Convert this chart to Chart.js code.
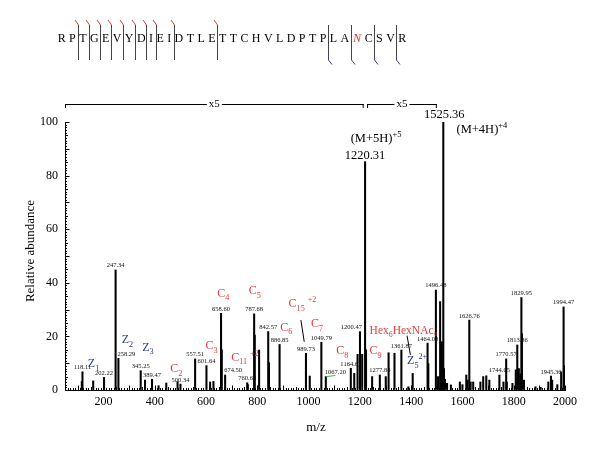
<!DOCTYPE html>
<html>
<head>
<meta charset="utf-8">
<script src="https://cdn.jsdelivr.net/npm/chart.js@4.4.1/dist/chart.umd.min.js"></script>
<style>body{margin:0;background:#fff}</style>
</head>
<body>
<canvas id="myChart" width="600" height="450"></canvas>
<script>
// spectrum peaks (m/z, relative abundance)
const peakMz = [115.5, 118.11, 160, 202.22, 247.34, 258.29, 345.25, 362, 389.47, 415, 445, 489, 500.34,
  557.51, 601.64, 616, 629, 658.60, 661.5, 674.50, 760.69, 763, 787.68, 790, 807, 842.57, 845.5, 886.85,
  989.73, 1004.5, 1049.79, 1067.20, 1164.67, 1178, 1191, 1200.47, 1209, 1220.31, 1224, 1247.8, 1277.84,
  1301, 1312, 1335, 1361.87, 1389, 1406, 1464.00, 1467, 1496.48, 1505, 1513, 1517, 1520, 1525.36, 1528,
  1532, 1540, 1555, 1590, 1600, 1615, 1620, 1626.76, 1632, 1642, 1670, 1681, 1693, 1705, 1744.05, 1760,
  1770.57, 1773, 1795, 1808, 1813.86, 1820, 1826, 1829.95, 1832, 1840, 1885, 1905, 1935, 1945.36, 1950,
  1970, 1985, 1994.47, 1998];
const peakAbund = [3.2, 6.8, 3.4, 4.7, 44.8, 11.8, 7.2, 3.7, 4.0, 1.6, 2.6, 3.1, 2.2,
  11.6, 9.1, 3.0, 3.2, 28.6, 15, 5.6, 2.7, 2.0, 28.4, 20.5, 14.9, 21.8, 10.2, 17.0,
  13.7, 5.2, 17.8, 5.0, 8.1, 6.2, 13.3, 21.8, 13.3, 85.2, 15, 5, 5.6,
  5, 13.9, 13.7, 14.9, 1.2, 6.2, 17.5, 9.8, 37.3, 5, 33, 12, 18, 100, 8,
  4, 2.5, 1.9, 3, 2, 5.6, 3.7, 26.1, 3, 3, 3, 5, 5.3, 3.7, 5.6, 3,
  11.6, 3, 2.5, 7.5, 16.8, 8, 6, 34.5, 21, 3.7, 1.2, 1, 3, 5.2, 3.7,
  2, 6.8, 31, 9];
// small peak labels
const peakLabels = ['118.11', '202.22', '247.34', '258.29', '345.25', '389.47', '500.34', '557.51', '601.64',
  '658.60', '674.50', '760.69', '787.68', '842.57', '886.85', '989.73', '1049.79', '1067.20', '1164.67',
  '1200.47', '1277.84', '1361.87', '1464.00', '1496.48', '1626.76', '1744.05', '1770.57', '1813.86',
  '1829.95', '1945.36', '1994.47'];
const sequence = ['R','P','T','G','E','V','Y','D','I','E','I','D','T','L','E','T','T','C','H','V','L','D','P','T','P','L','A','N','C','S','V','R'];
const cCuts = [2, 3, 4, 5, 6, 7, 8, 9, 11, 15];
const zCuts = [25, 27, 29, 31];
const xTickStep = 200;
const yTickStep = 20;

const fam = '"Liberation Serif", "DejaVu Serif", serif';
const RED = '#e23b3b';
const BLUE = '#2f3a8f';

function rich(ctx, parts, x, yc, size, color) {
  ctx.fillStyle = color;
  ctx.textAlign = 'left';
  ctx.textBaseline = 'alphabetic';
  let cx = x;
  const base = yc + size * 0.33;
  for (const [t, m] of parts) {
    const fs = m ? size * 0.68 : size;
    ctx.font = fs + 'px ' + fam;
    const dy = m === 1 ? size * 0.3 : (m === 2 ? -size * 0.4 : 0);
    ctx.fillText(t, cx, base + dy);
    cx += ctx.measureText(t).width;
  }
}

const ionLabels = [
  {p: [['Z',0],['1',1]], mz: 139, v: 9.9, c: BLUE},
  {p: [['Z',0],['2',1]], mz: 271, v: 18.9, c: BLUE},
  {p: [['Z',0],['3',1]], mz: 351, v: 16.2, c: BLUE},
  {p: [['C',0],['2',1]], mz: 460, v: 8.1, c: RED},
  {p: [['C',0],['3',1]], mz: 598, v: 16.8, c: RED},
  {p: [['C',0],['4',1]], mz: 644, v: 36.3, c: RED},
  {p: [['C',0],['5',1]], mz: 767, v: 37.3, c: RED},
  {p: [['C',0],['11',1],[' ',0],['+2',2]], mz: 698, v: 12.4, c: RED},
  {p: [['C',0],['6',1]], mz: 889, v: 23.6, c: RED},
  {p: [['C',0],['15',1],[' ',0],['+2',2]], mz: 922, v: 32.4, c: RED},
  {p: [['C',0],['7',1]], mz: 1009, v: 24.9, c: RED},
  {p: [['C',0],['8',1]], mz: 1108, v: 14.9, c: RED},
  {p: [['C',0],['9',1]], mz: 1238, v: 14.9, c: RED},
  {p: [['Hex',0],['6',1],['HexNAc',0]], mz: 1238, v: 22.4, c: RED},
  {p: [['Z',0],['5',1],['2+',2]], mz: 1384, v: 11.2, c: BLUE}
];
const labelAlign = {'258.29': 'left', '674.50': 'left', '1067.20': 'left', '1200.47': 'right'};

const annotate = {
  id: 'annotate',
  afterDraw(chart) {
    const {ctx, chartArea: a, scales: {x, y}} = chart;
    ctx.save();
    ctx.strokeStyle = '#000';
    ctx.lineWidth = 1;
    // inward ticks
    ctx.beginPath();
    for (let v = 60; v <= 2000; v += 10) {
      const px = Math.round(x.getPixelForValue(v)) + 0.5;
      const len = v % 100 === 0 ? 4.5 : (v % 50 === 0 ? 3 : 2);
      ctx.moveTo(px, a.bottom); ctx.lineTo(px, a.bottom - len);
    }
    for (let v = 0; v <= 100; v += 1) {
      const py = Math.round(y.getPixelForValue(v)) + 0.5;
      const len = v % 10 === 0 ? 4.5 : (v % 5 === 0 ? 3 : 2);
      ctx.moveTo(a.left, py); ctx.lineTo(a.left + len, py);
    }
    ctx.stroke();

    // small m/z labels
    ctx.fillStyle = '#111';
    ctx.font = '6.5px ' + fam;
    ctx.textBaseline = 'bottom';
    for (const lab of peakLabels) {
      const m = parseFloat(lab);
      const i = peakMz.indexOf(m);
      const px = x.getPixelForValue(m);
      const py = y.getPixelForValue(peakAbund[i]) - 1;
      const al = labelAlign[lab] || 'center';
      ctx.textAlign = al;
      ctx.fillText(lab, al === 'left' ? px - 1 : (al === 'right' ? px + 2 : px), py);
    }
    // green mark & red 6
    ctx.strokeStyle = '#3cb043';
    ctx.beginPath();
    ctx.moveTo(x.getPixelForValue(1069), y.getPixelForValue(5)); ctx.lineTo(x.getPixelForValue(1104), y.getPixelForValue(5.4));
    ctx.stroke();
    ctx.fillStyle = RED; ctx.font = '6px ' + fam; ctx.textAlign = 'left';
    ctx.fillText('6', x.getPixelForValue(1490), y.getPixelForValue(19.6));

    // ion labels
    for (const L of ionLabels) {
      rich(ctx, L.p, x.getPixelForValue(L.mz), y.getPixelForValue(L.v), L.p[0][0] === 'Hex' ? 11.5 : 12, L.c);
    }
    // leader lines
    ctx.strokeStyle = '#000';
    ctx.beginPath();
    ctx.moveTo(x.getPixelForValue(970), y.getPixelForValue(26.1)); ctx.lineTo(x.getPixelForValue(983), y.getPixelForValue(18));
    ctx.moveTo(x.getPixelForValue(1384), y.getPixelForValue(20.3)); ctx.lineTo(x.getPixelForValue(1397), y.getPixelForValue(13.1));
    ctx.stroke();

    // precursor labels
    ctx.fillStyle = '#000';
    ctx.textAlign = 'center';
    ctx.textBaseline = 'middle';
    ctx.font = '12.5px ' + fam;
    ctx.fillText('1525.36', x.getPixelForValue(1529), y.getPixelForValue(102.6));
    ctx.fillText('1220.31', x.getPixelForValue(1220), y.getPixelForValue(87.3));
    rich(ctx, [['(M+4H)',0],['+4',2]], x.getPixelForValue(1577), y.getPixelForValue(97.6), 12.5, '#000');
    rich(ctx, [['(M+5H)',0],['+5',2]], x.getPixelForValue(1164), y.getPixelForValue(94.1), 12.5, '#000');

    // x5 brackets
    const by = a.top - 18;
    ctx.font = '11px ' + fam;
    for (const [m0, m1] of [[50, 1215], [1228, 1500]]) {
      const x0 = x.getPixelForValue(m0), x1 = x.getPixelForValue(m1);
      ctx.strokeStyle = '#000';
      ctx.beginPath();
      ctx.moveTo(x0, by + 0.5); ctx.lineTo(x1, by + 0.5);
      ctx.moveTo(x0 + 0.5, by); ctx.lineTo(x0 + 0.5, by + 4);
      ctx.moveTo(x1 - 0.5, by); ctx.lineTo(x1 - 0.5, by + 4);
      ctx.stroke();
      const xm = (x0 + x1) / 2;
      const w = ctx.measureText('x5').width + 4;
      ctx.fillStyle = '#fff';
      ctx.fillRect(xm - w / 2, by - 5, w, 10);
      ctx.fillStyle = '#000';
      ctx.textAlign = 'center'; ctx.textBaseline = 'middle';
      ctx.fillText('x5', xm, by);
    }

    // peptide sequence
    ctx.font = '12px ' + fam;
    const wd = sequence.map(c => ctx.measureText(c).width);
    let halfSum = 0;
    for (let i = 1; i < sequence.length; i++) halfSum += (wd[i - 1] + wd[i]) / 2;
    const gap = (340.6 - halfSum) / (sequence.length - 1);
    const cx = [61.7];
    for (let i = 1; i < sequence.length; i++) cx[i] = cx[i - 1] + (wd[i - 1] + wd[i]) / 2 + gap;
    ctx.textAlign = 'center'; ctx.textBaseline = 'alphabetic';
    sequence.forEach((c, i) => {
      if (i === 27) { ctx.fillStyle = RED; ctx.font = 'italic 12px ' + fam; }
      else { ctx.fillStyle = '#000'; ctx.font = '12px ' + fam; }
      ctx.fillText(c, cx[i], 41.5);
    });
    ctx.lineWidth = 1;
    for (const k of cCuts) {
      const sx = Math.round((cx[k - 1] + cx[k]) / 2) + 0.5;
      ctx.strokeStyle = '#444';
      ctx.beginPath(); ctx.moveTo(sx, 25); ctx.lineTo(sx, 60); ctx.stroke();
      ctx.strokeStyle = RED;
      ctx.beginPath(); ctx.moveTo(sx - 3.5, 20); ctx.lineTo(sx, 25); ctx.stroke();
    }
    for (const k of zCuts) {
      const sx = Math.round((cx[k - 1] + cx[k]) / 2) + 0.5;
      ctx.strokeStyle = '#444';
      ctx.beginPath(); ctx.moveTo(sx, 25); ctx.lineTo(sx, 60); ctx.stroke();
      ctx.strokeStyle = BLUE;
      ctx.beginPath(); ctx.moveTo(sx, 60); ctx.lineTo(sx + 3.5, 64.5); ctx.stroke();
    }

    // axis titles
    ctx.fillStyle = '#000';
    ctx.font = '13px ' + fam;
    ctx.textAlign = 'center'; ctx.textBaseline = 'middle';
    ctx.fillText('m/z', 316, 428);
    ctx.translate(31, 251);
    ctx.rotate(-Math.PI / 2);
    ctx.fillText('Relative abundance', 0, 0);
    ctx.restore();
  }
};

new Chart('myChart', {
  type: 'bar',
  data: {
    datasets: [{
      data: peakMz.map((m, i) => ({x: m, y: peakAbund[i]})),
      backgroundColor: '#000',
      borderWidth: 0,
      barThickness: 1.4
    }]
  },
  options: {
    responsive: false,
    animation: false,
    layout: {padding: {left: 0, right: 35, top: 122, bottom: 0}},
    plugins: {legend: {display: false}, tooltip: {enabled: false}},
    scales: {
      x: {
        type: 'linear', min: 50, max: 2000, offset: false,
        afterFit(s) { s.height = 60; },
        grid: {display: true, offset: false, drawOnChartArea: false, drawTicks: false},
        border: {display: true, color: '#000', width: 1},
        ticks: {
          stepSize: xTickStep, autoSkip: false, maxRotation: 0, padding: 5, color: '#000',
          font: {family: fam, size: 12},
          callback: v => v % xTickStep === 0 ? v : ''
        }
      },
      y: {
        min: 0, max: 100,
        afterFit(s) { s.width = 65; },
        grid: {display: true, drawOnChartArea: false, drawTicks: false},
        border: {display: true, color: '#000', width: 1},
        ticks: {stepSize: yTickStep, padding: 7, color: '#000', font: {family: fam, size: 12}}
      }
    }
  },
  plugins: [annotate]
});
</script>
</body>
</html>
